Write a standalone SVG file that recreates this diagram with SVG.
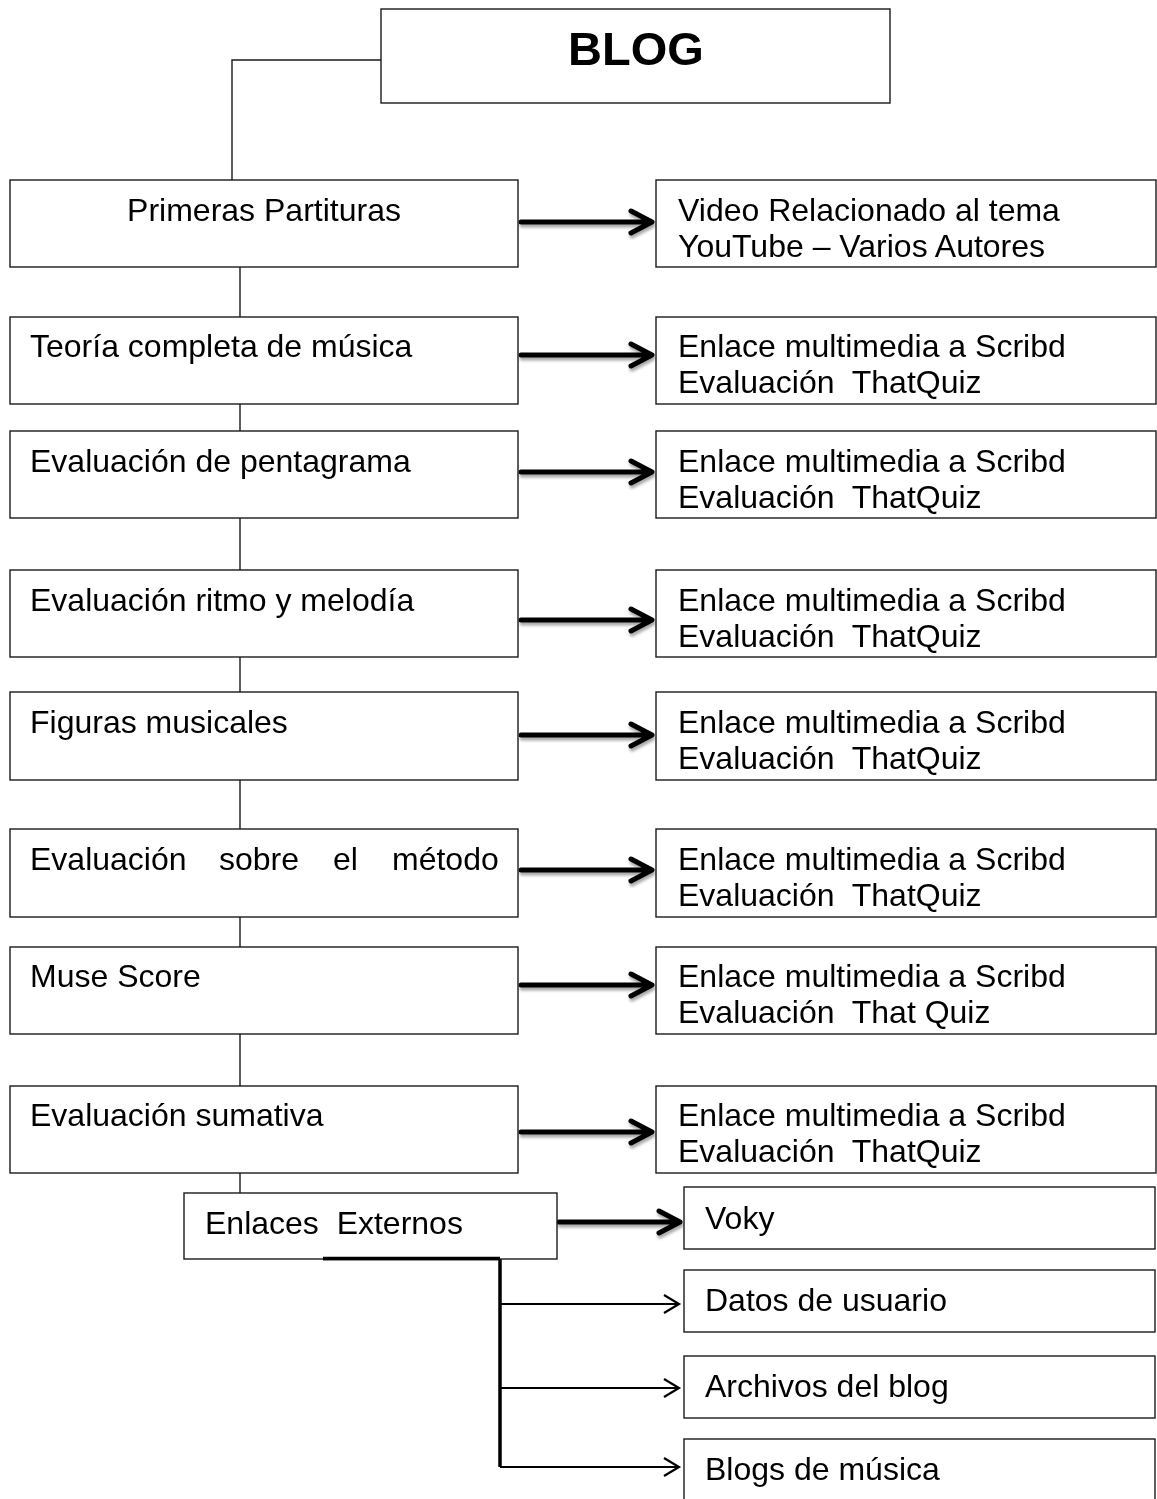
<svg xmlns="http://www.w3.org/2000/svg" width="1157" height="1499" viewBox="0 0 1157 1499">
<style>
.box{fill:#fff;stroke:#1a1a1a;stroke-width:1.4}
.t{font-family:"Liberation Sans",Arial,sans-serif;font-size:32px;fill:#000}
.b{font-family:"Liberation Sans",Arial,sans-serif;font-size:47px;font-weight:bold;fill:#000}
.ln{fill:none;stroke:#1a1a1a;stroke-width:1.4}
.thick{fill:none;stroke:#000;stroke-width:5;stroke-linecap:round;stroke-linejoin:round}
.thin{fill:none;stroke:#000;stroke-width:2.2}
</style>
<defs>
<filter id="sh" x="-10%" y="-50%" width="120%" height="200%">
<feGaussianBlur in="SourceAlpha" stdDeviation="1.5"/>
<feOffset dx="1" dy="3" result="o"/>
<feComponentTransfer><feFuncA type="linear" slope="0.35"/></feComponentTransfer>
<feMerge><feMergeNode/><feMergeNode in="SourceGraphic"/></feMerge>
</filter>
<g id="bigArrow"><path class="thick" d="M0 0H130M110 -11L131 0L110 11"/></g>
</defs>
<g id="connectors">
<path class="ln" d="M381 60H232V180"/>
<path class="ln" d="M240 267V317M240 404V431M240 518V570M240 657V692M240 780V829M240 917V947M240 1034V1086M240 1173V1193"/>
<g filter="url(#sh)">
<use href="#bigArrow" x="521" y="222"/>
<use href="#bigArrow" x="521" y="355"/>
<use href="#bigArrow" x="521" y="472"/>
<use href="#bigArrow" x="521" y="620"/>
<use href="#bigArrow" x="521" y="735"/>
<use href="#bigArrow" x="521" y="870"/>
<use href="#bigArrow" x="521" y="985"/>
<use href="#bigArrow" x="521" y="1132"/>
<path class="thick" d="M559 1222H680M659 1211L680 1222L659 1233"/>
</g>
<path d="M323 1258.5H500V1467" fill="none" stroke="#000" stroke-width="3.5"/>
<path class="thin" d="M500 1304H679M664 1295L679 1304L664 1313"/>
<path class="thin" d="M500 1388H679M664 1379L679 1388L664 1397"/>
<path class="thin" d="M500 1467H679M664 1458L679 1467L664 1476"/>
</g>
<g id="blog"><rect class="box" x="381" y="9" width="509" height="94"/><text class="b" x="636" y="65" text-anchor="middle">BLOG</text></g>
<g id="n1"><rect class="box" x="10" y="180" width="508" height="87"/><text class="t" x="264" y="221" text-anchor="middle">Primeras Partituras</text></g>
<g id="n2"><rect class="box" x="10" y="317" width="508" height="87"/><text class="t" x="30" y="357">Teoría completa de música</text></g>
<g id="n3"><rect class="box" x="10" y="431" width="508" height="87"/><text class="t" x="30" y="472">Evaluación de pentagrama</text></g>
<g id="n4"><rect class="box" x="10" y="570" width="508" height="87"/><text class="t" x="30" y="611">Evaluación ritmo y melodía</text></g>
<g id="n5"><rect class="box" x="10" y="692" width="508" height="88"/><text class="t" x="30" y="733">Figuras musicales</text></g>
<g id="n6"><rect class="box" x="10" y="829" width="508" height="88"/><text class="t" y="870"><tspan x="30">Evaluación</tspan><tspan x="219">sobre</tspan><tspan x="333">el</tspan><tspan x="392">método</tspan></text></g>
<g id="n7"><rect class="box" x="10" y="947" width="508" height="87"/><text class="t" x="30" y="987">Muse Score</text></g>
<g id="n8"><rect class="box" x="10" y="1086" width="508" height="87"/><text class="t" x="30" y="1126">Evaluación sumativa</text></g>
<g id="r1"><rect class="box" x="656" y="180" width="500" height="87"/><text class="t" x="678" y="221">Video Relacionado al tema</text><text class="t" x="678" y="257">YouTube – Varios Autores</text></g>
<g id="r2"><rect class="box" x="656" y="317" width="500" height="87"/><text class="t" x="678" y="357">Enlace multimedia a Scribd</text><text class="t" x="678" y="393" xml:space="preserve">Evaluación  ThatQuiz</text></g>
<g id="r3"><rect class="box" x="656" y="431" width="500" height="87"/><text class="t" x="678" y="472">Enlace multimedia a Scribd</text><text class="t" x="678" y="508" xml:space="preserve">Evaluación  ThatQuiz</text></g>
<g id="r4"><rect class="box" x="656" y="570" width="500" height="87"/><text class="t" x="678" y="611">Enlace multimedia a Scribd</text><text class="t" x="678" y="647" xml:space="preserve">Evaluación  ThatQuiz</text></g>
<g id="r5"><rect class="box" x="656" y="692" width="500" height="88"/><text class="t" x="678" y="733">Enlace multimedia a Scribd</text><text class="t" x="678" y="769" xml:space="preserve">Evaluación  ThatQuiz</text></g>
<g id="r6"><rect class="box" x="656" y="829" width="500" height="88"/><text class="t" x="678" y="870">Enlace multimedia a Scribd</text><text class="t" x="678" y="906" xml:space="preserve">Evaluación  ThatQuiz</text></g>
<g id="r7"><rect class="box" x="656" y="947" width="500" height="87"/><text class="t" x="678" y="987">Enlace multimedia a Scribd</text><text class="t" x="678" y="1023" xml:space="preserve">Evaluación  That Quiz</text></g>
<g id="r8"><rect class="box" x="656" y="1086" width="500" height="87"/><text class="t" x="678" y="1126">Enlace multimedia a Scribd</text><text class="t" x="678" y="1162" xml:space="preserve">Evaluación  ThatQuiz</text></g>
<g id="ext"><rect class="box" x="184" y="1193" width="373" height="66"/><text class="t" x="205" y="1234" xml:space="preserve">Enlaces  Externos</text></g>
<g id="voky"><rect class="box" x="684" y="1187" width="471" height="62"/><text class="t" x="705" y="1229">Voky</text></g>
<g id="datos"><rect class="box" x="684" y="1270" width="471" height="62"/><text class="t" x="705" y="1311">Datos de usuario</text></g>
<g id="archivos"><rect class="box" x="684" y="1356" width="471" height="62"/><text class="t" x="705" y="1397">Archivos del blog</text></g>
<g id="blogs"><rect class="box" x="684" y="1439" width="471" height="70"/><text class="t" x="705" y="1480">Blogs de música</text></g>
<path d="M323 1258.5H500" fill="none" stroke="#000" stroke-width="3.5"/>
</svg>
